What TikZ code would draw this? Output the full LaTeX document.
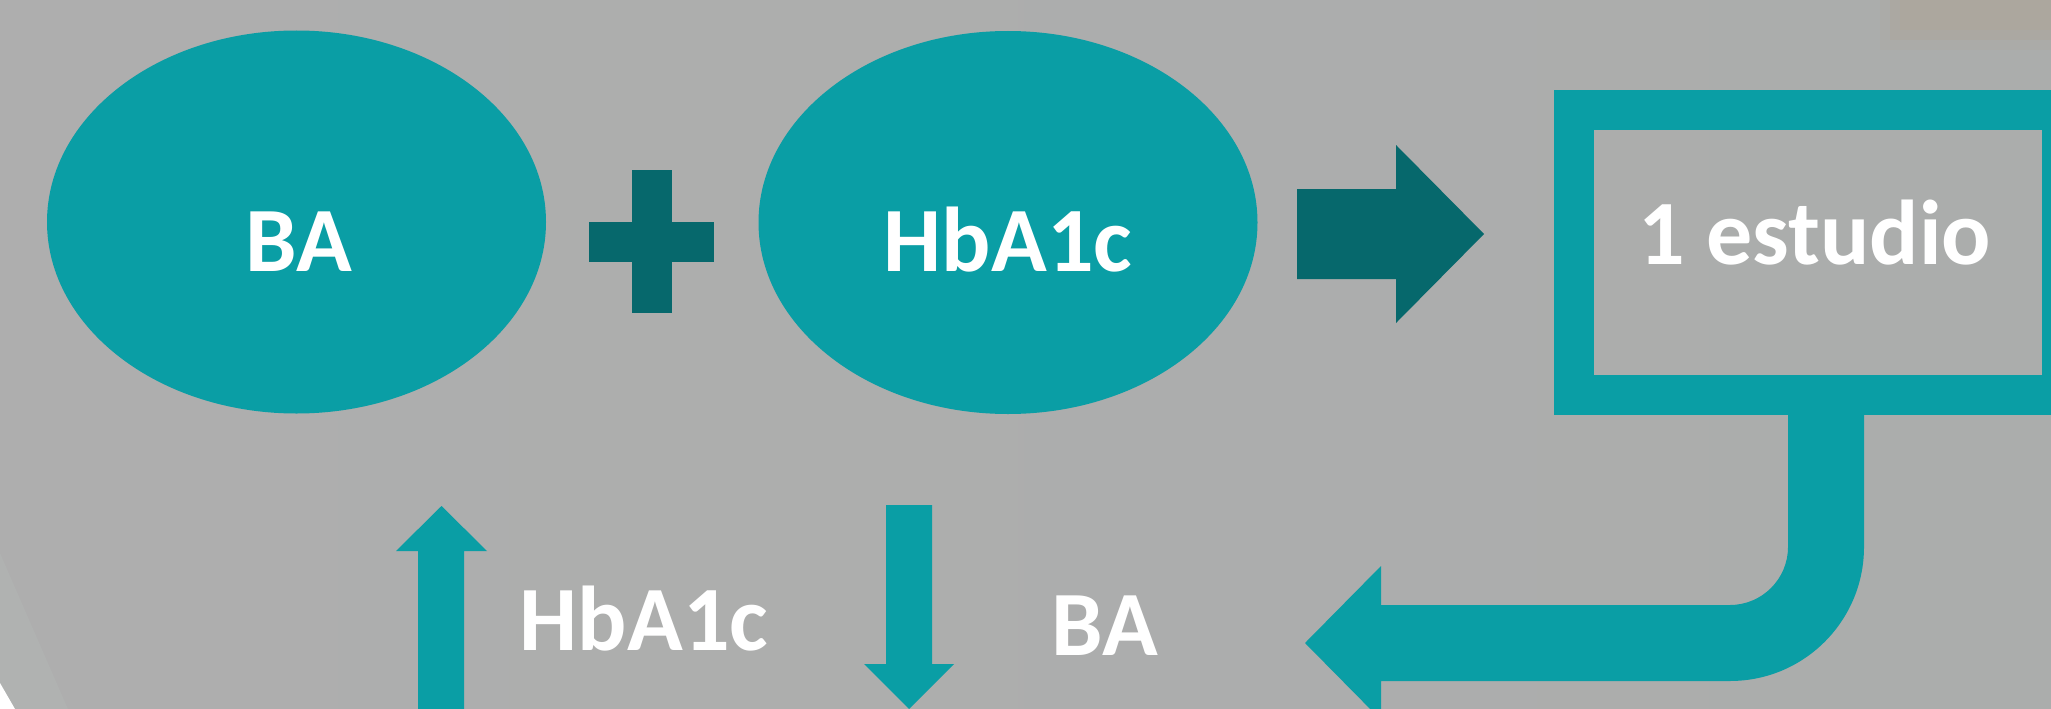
\documentclass[tikz,border=0pt]{standalone}
\usepackage{fontspec}
\setmainfont{Carlito}
\usetikzlibrary{shapes.geometric}
\definecolor{tealmain}{RGB}{10,158,165}
\definecolor{tealdark}{RGB}{6,104,108}
\definecolor{bgL}{RGB}{174,174,174}
\definecolor{bgR}{RGB}{171,173,172}
\definecolor{bgband}{RGB}{176,178,177}
\definecolor{photo}{RGB}{172,167,158}
\begin{document}
\begin{tikzpicture}[x=1pt,y=-1pt,
  blob/.style={ellipse, fill=tealmain, inner sep=0pt, minimum width=499pt, minimum height=383pt},
  lbl/.style={font=\fontsize{92}{100}\selectfont\bfseries, text=white, anchor=base, inner sep=0pt},
  framebox/.style={draw=tealmain, line width=40pt, rectangle, inner sep=0pt, minimum width=488pt, minimum height=284.5pt},
  blockarrow/.style={fill=tealmain},
  darkshape/.style={fill=tealdark}]
\useasboundingbox (0,0) rectangle (2051,709);
\clip (0,0) rectangle (2051,709);
% background
\fill[left color=bgL, right color=bgR] (0,0) rectangle (2051,709);
\fill[bgband] (0,553) -- (68,709) -- (0,709) -- cycle;
\fill[white] (0,683) -- (15,709) -- (0,709) -- cycle;
\fill[photo, opacity=0.25] (1880,0) rectangle (2051,50);
\fill[photo, opacity=0.5] (1890,0) rectangle (2051,40);
\fill[photo] (1900,0) rectangle (2051,30);
% ellipses
\node[blob] (ba) at (296.5,222) {};
\node[blob] (hb) at (1008,222.5) {};
\node[lbl] (tba) at (299,271) {BA};
\node[lbl] (thb) at (1008,271) {HbA1c};
% plus sign
\fill[darkshape] (632,170) rectangle (672,313);
\fill[darkshape] (589,222) rectangle (714,262);
% dark right arrow
\fill[darkshape] (1297,189) -- (1396,189) -- (1396,145) -- (1484,234) -- (1396,323) -- (1396,279) -- (1297,279) -- cycle;
% frame box
\node[framebox] (box) at (1818,252.25) {};
\node[lbl] (tbox) at (1815,264) {1 estudio};
% bent arrow from box
\coordinate (bl) at ([xshift=-30pt]box.south);
\coordinate (br) at ([xshift=46pt]box.south);
\fill[blockarrow] (bl) -- (1788,547) .. controls (1788,579) and (1762,605) .. (1730,605)
  -- (1381,605) -- (1381,566) -- (1305,643) -- (1381,720) -- (1381,681) -- (1730,681)
  .. controls (1804,681) and (1864,621) .. (1864,547) -- (br) -- cycle;
% bottom labels
\node[lbl] (bhb) at (644,650) {HbA1c};
\node[lbl] (bba) at (1104.5,655) {BA};
% up arrow
\fill[blockarrow] (418,720) -- (418,551) -- (396,551) -- (441.5,506) -- (487,551) -- (464,551) -- (464,720) -- cycle;
% down arrow
\fill[blockarrow] (886,505) -- (932,505) -- (932,664) -- (954,664) -- (909,709) -- (864,664) -- (886,664) -- cycle;
\end{tikzpicture}
\end{document}
